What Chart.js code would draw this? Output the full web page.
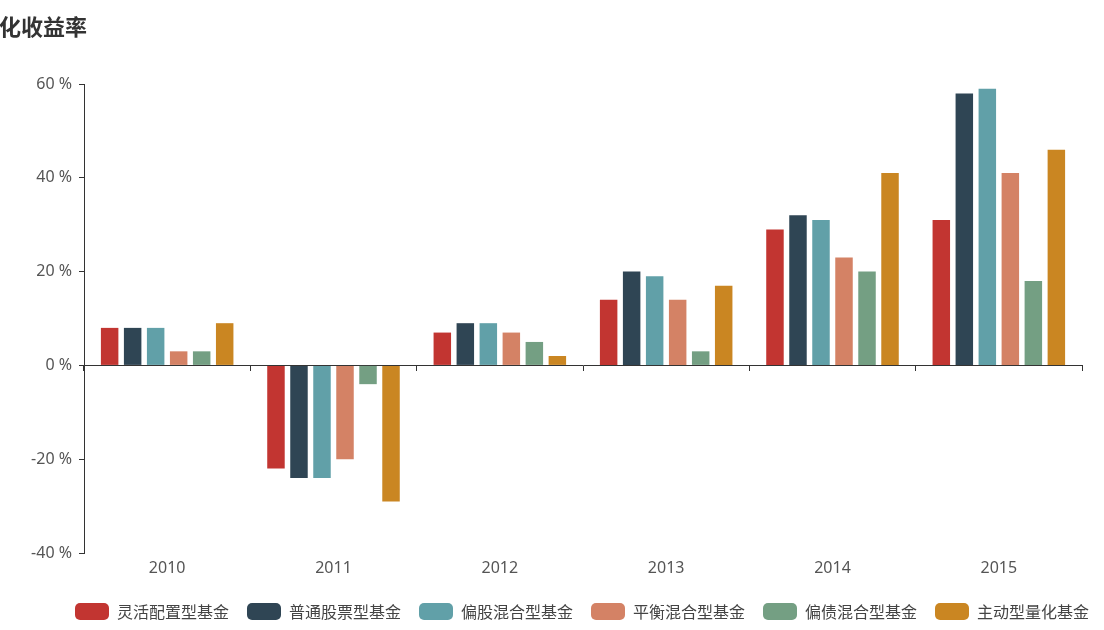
<!DOCTYPE html>
<html>
<head>
<meta charset="utf-8">
<script src="https://cdn.jsdelivr.net/npm/chart.js@4/dist/chart.umd.min.js"></script>
<style>
  html, body { margin: 0; padding: 0; background: #fff; }
  #wrap { position: relative; width: 1104px; height: 630px; }
</style>
</head>
<body>
<div id="wrap"><canvas id="c" width="1104" height="630"></canvas></div>
<script>
const titleText = '化收益率';
const categories = ['2010', '2011', '2012', '2013', '2014', '2015'];
const seriesNames = ['灵活配置型基金', '普通股票型基金', '偏股混合型基金', '平衡混合型基金', '偏债混合型基金', '主动型量化基金'];
const flexible   = [8, -22, 7, 14, 29, 31];
const stock      = [8, -24, 9, 20, 32, 58];
const equityMix  = [8, -24, 9, 19, 31, 59];
const balanced   = [3, -20, 7, 14, 23, 41];
const bondMix    = [3, -4, 5, 3, 20, 18];
const quant      = [9, -29, 2, 17, 41, 46];
const yTicks = [-40, -20, 0, 20, 40, 60];

const colors = ['#c23531', '#2f4554', '#61a0a8', '#d48265', '#749f83', '#ca8622'];
const seriesValues = [flexible, stock, equityMix, balanced, bondMix, quant];
const FONT = '"Noto Sans CJK SC", "Noto Sans", sans-serif';
const TICKFONT = '"Noto Sans", "Noto Sans CJK SC", sans-serif';

const titlePlugin = {
  id: 'titleText',
  afterLayout(chart) {
    const lg = chart.legend;
    if (lg) { lg.left += 41; lg.right += 41; }
  },
  afterDraw(chart) {
    const ctx = chart.ctx;
    ctx.save();
    ctx.font = 'bold 22px ' + FONT;
    ctx.fillStyle = '#333';
    ctx.textBaseline = 'middle';
    ctx.textAlign = 'left';
    ctx.fillText(titleText, -1, 27);
    ctx.restore();
  }
};

new Chart(document.getElementById('c'), {
  type: 'bar',
  data: {
    labels: categories,
    datasets: seriesNames.map((n, i) => ({
      label: n,
      data: seriesValues[i],
      backgroundColor: colors[i],
      borderWidth: 0,
      categoryPercentage: 0.83,
      barPercentage: 0.76
    }))
  },
  options: {
    responsive: false,
    animation: false,
    devicePixelRatio: 1,
    layout: { padding: { left: 0, right: 22, top: 84, bottom: 0 } },
    plugins: {
      title: { display: false },
      tooltip: { enabled: false },
      legend: {
        position: 'bottom',
        labels: {
          boxWidth: 34,
          boxHeight: 17,
          useBorderRadius: true,
          borderRadius: 5,
          padding: 18,
          color: '#444',
          font: { family: FONT, size: 16 }
        }
      }
    },
    scales: {
      x: {
        type: 'category',
        position: 'bottom',
        offset: true,
        grid: { display: false, drawTicks: false },
        border: { display: false },
        ticks: { color: '#555', font: { family: TICKFONT, size: 16 }, padding: 6 },
        afterFit(s) { s.height = 32; }
      },
      x2: {
        type: 'category',
        labels: categories,
        position: { y: 0 },
        offset: true,
        grid: { offset: true, drawOnChartArea: false, drawTicks: true, tickLength: 5, color: '#333' },
        border: { display: true, color: '#333', width: 1 },
        ticks: { display: false }
      },
      y: {
        min: -40,
        max: 60,
        afterBuildTicks(s) { s.ticks = yTicks.map(v => ({ value: v })); },
        grid: { drawOnChartArea: false, drawTicks: true, tickLength: 5, color: '#333' },
        border: { display: true, color: '#333', width: 1 },
        ticks: {
          color: '#555',
          font: { family: TICKFONT, size: 16 },
          padding: 7,
          callback: v => v + ' %'
        },
        afterFit(s) { s.width = 84; }
      }
    }
  },
  plugins: [titlePlugin]
});
</script>
</body>
</html>
